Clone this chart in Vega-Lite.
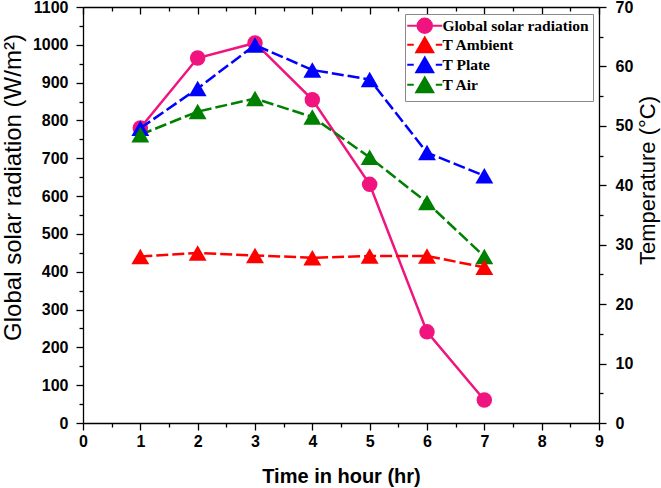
{
  "$schema": "https://vega.github.io/schema/vega-lite/v6.json",
  "width": 516,
  "height": 416,
  "autosize": {"type": "none"},
  "padding": {"left": 83, "top": 7, "right": 62, "bottom": 65},
  "background": "white",
  "datasets": {
    "solar": [
      {"hour": 1, "series": "Global solar radiation", "value": 780},
      {"hour": 2, "series": "Global solar radiation", "value": 965},
      {"hour": 3, "series": "Global solar radiation", "value": 1005},
      {"hour": 4, "series": "Global solar radiation", "value": 855},
      {"hour": 5, "series": "Global solar radiation", "value": 631},
      {"hour": 6, "series": "Global solar radiation", "value": 241},
      {"hour": 7, "series": "Global solar radiation", "value": 61}
    ],
    "temp": [
      {"hour": 1, "series": "T Plate", "value": 49.6},
      {"hour": 2, "series": "T Plate", "value": 56.3},
      {"hour": 3, "series": "T Plate", "value": 63.6},
      {"hour": 4, "series": "T Plate", "value": 59.4},
      {"hour": 5, "series": "T Plate", "value": 57.8},
      {"hour": 6, "series": "T Plate", "value": 45.5},
      {"hour": 7, "series": "T Plate", "value": 41.6},
      {"hour": 1, "series": "T Air", "value": 48.5},
      {"hour": 2, "series": "T Air", "value": 52.4},
      {"hour": 3, "series": "T Air", "value": 54.6},
      {"hour": 4, "series": "T Air", "value": 51.5},
      {"hour": 5, "series": "T Air", "value": 44.7},
      {"hour": 6, "series": "T Air", "value": 37.1},
      {"hour": 7, "series": "T Air", "value": 28.0},
      {"hour": 1, "series": "T Ambient", "value": 28.0},
      {"hour": 2, "series": "T Ambient", "value": 28.6},
      {"hour": 3, "series": "T Ambient", "value": 28.2},
      {"hour": 4, "series": "T Ambient", "value": 27.8},
      {"hour": 5, "series": "T Ambient", "value": 28.1},
      {"hour": 6, "series": "T Ambient", "value": 28.1},
      {"hour": 7, "series": "T Ambient", "value": 26.2}
    ]
  },
  "config": {
    "view": {"stroke": null},
    "axis": {
      "grid": false,
      "domainColor": "black",
      "domainWidth": 1.3,
      "tickColor": "black",
      "tickWidth": 1.3,
      "labelColor": "black",
      "titleColor": "black",
      "labelFont": "Liberation Sans",
      "titleFont": "Liberation Sans",
      "labelFontSize": 16,
      "labelFontWeight": "bold",
      "labelOverlap": false,
      "labelFlush": false
    }
  },
  "layer": [
    {
      "data": {"name": "solar"},
      "encoding": {
        "x": {
          "field": "hour", "type": "quantitative",
          "scale": {"domain": [0, 9], "nice": false},
          "axis": {
            "orient": "bottom",
            "values": [0, 0.5, 1, 1.5, 2, 2.5, 3, 3.5, 4, 4.5, 5, 5.5, 6, 6.5, 7, 7.5, 8, 8.5, 9],
            "labelExpr": "datum.value % 1 === 0 ? toString(datum.value) : ''",
            "tickSize": {"condition": {"test": "datum.value % 1 === 0", "value": 7}, "value": 4},
            "labelPadding": 3,
            "title": "Time in hour (hr)",
            "titleFontSize": 20,
            "titleFontWeight": "bold",
            "titlePadding": 17
          }
        },
        "y": {
          "field": "value", "type": "quantitative",
          "scale": {"domain": [0, 1100], "nice": false},
          "axis": {
            "orient": "left",
            "values": [0, 50, 100, 150, 200, 250, 300, 350, 400, 450, 500, 550, 600, 650, 700, 750, 800, 850, 900, 950, 1000, 1050, 1100],
            "labelExpr": "datum.value % 100 === 0 ? toString(datum.value) : ''",
            "tickSize": {"condition": {"test": "datum.value % 100 === 0", "value": 7}, "value": 4},
            "labelPadding": 8,
            "title": "Global solar radiation (W/m²)",
            "titleFontSize": 24,
            "titleFontWeight": "normal",
            "titleAngle": 270,
            "titleBaseline": "top",
            "titleX": -82,
            "titleY": 180
          }
        },
        "color": {
          "field": "series", "type": "nominal",
          "scale": {
            "domain": ["Global solar radiation", "T Ambient", "T Plate", "T Air"],
            "range": ["#F0147F", "#FF0000", "#0000FF", "#008000"]
          },
          "legend": {
            "title": null,
            "orient": "none",
            "legendX": 322,
            "legendY": 7,
            "fillColor": "white",
            "strokeColor": "#888888",
            "padding": 4,
            "labelFont": "Liberation Serif",
            "labelFontWeight": "bold",
            "labelFontSize": 15.5,
            "labelColor": "black",
            "labelLimit": 300,
            "symbolSize": 100,
            "symbolStrokeWidth": 2,
            "symbolOffset": 8,
            "labelOffset": 10,
            "rowPadding": -5,
            "encode": {
              "symbols": {
                "update": {
                  "shape": {"signal": "datum.value === 'Global solar radiation' ? 'M-3.5,0H3.5M1.45,0C1.45,0.8,0.8,1.45,0,1.45C-0.8,1.45,-1.45,0.8,-1.45,0C-1.45,-0.8,-0.8,-1.45,0,-1.45C0.8,-1.45,1.45,-0.8,1.45,0Z' : 'M-3.5,0H-2.2M2.2,0H3.5M0,-1.45L1.7,1.5L-1.7,1.5Z'"},
                  "stroke": {"scale": "color", "field": "value"},
                  "fill": {"scale": "color", "field": "value"},
                  "strokeWidth": {"value": 2},
                  "opacity": {"value": 1}
                }
              }
            }
          }
        }
      },
      "layer": [
        {"mark": {"type": "line", "strokeWidth": 2.5}},
        {"mark": {"type": "point", "shape": "circle", "filled": true, "size": 240, "opacity": 1}}
      ]
    },
    {
      "data": {"name": "temp"},
      "encoding": {
        "x": {
          "field": "hour", "type": "quantitative",
          "scale": {"domain": [0, 9], "nice": false},
          "axis": {
            "orient": "top",
            "values": [0, 0.5, 1, 1.5, 2, 2.5, 3, 3.5, 4, 4.5, 5, 5.5, 6, 6.5, 7, 7.5, 8, 8.5, 9],
            "labels": false,
            "tickSize": {"condition": {"test": "datum.value % 1 === 0", "value": -7}, "value": -4},
            "title": null
          }
        },
        "y": {
          "field": "value", "type": "quantitative",
          "scale": {"domain": [0, 70], "nice": false},
          "axis": {
            "orient": "right",
            "values": [0, 5, 10, 15, 20, 25, 30, 35, 40, 45, 50, 55, 60, 65, 70],
            "labelExpr": "datum.value % 10 === 0 ? toString(datum.value) : ''",
            "tickSize": {"condition": {"test": "datum.value % 10 === 0", "value": 7}, "value": 4},
            "labelPadding": 9,
            "title": "Temperature (°C)",
            "titleFontSize": 22,
            "titleFontWeight": "normal",
            "titleAngle": 270,
            "titleBaseline": "top",
            "titleX": 38,
            "titleY": 173
          }
        },
        "color": {"field": "series", "type": "nominal"}
      },
      "layer": [
        {"mark": {"type": "line", "strokeWidth": 2.5, "strokeDash": [12, 4]}},
        {"mark": {"type": "point", "shape": "triangle-up", "filled": true, "size": 320, "opacity": 1}}
      ]
    }
  ],
  "resolve": {"scale": {"y": "independent"}, "axis": {"x": "independent", "y": "independent"}}
}
